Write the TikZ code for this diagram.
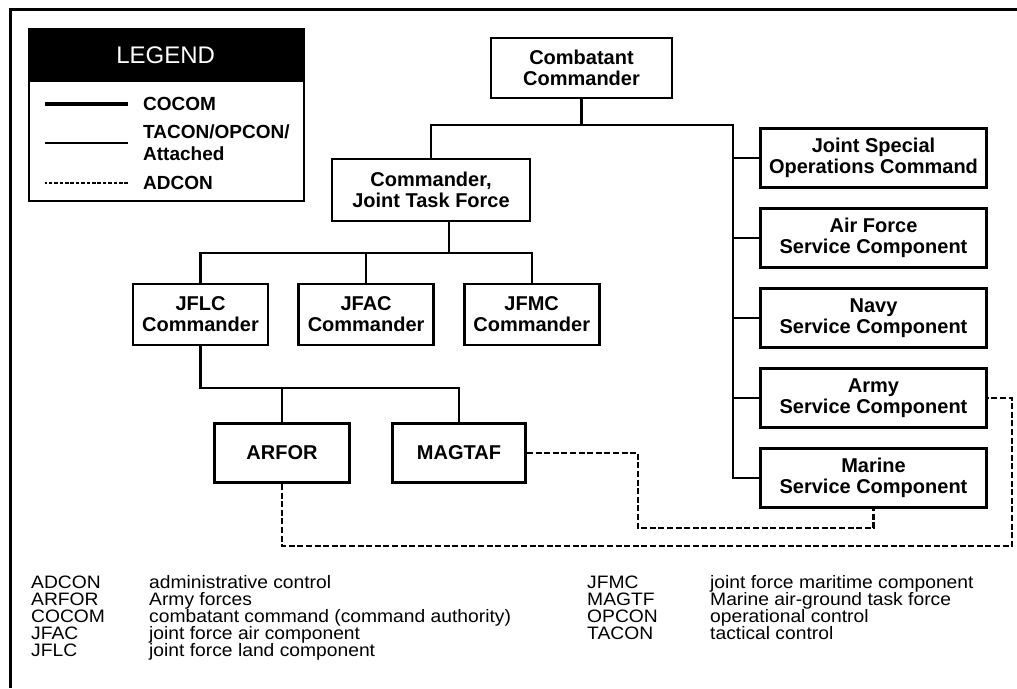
\documentclass[tikz,border=0pt]{standalone}
\usepackage{fontspec}
\setmainfont{Liberation Sans}
\newfontfamily\listfont[FakeStretch=1.07]{Liberation Sans}
\usetikzlibrary{positioning}

\begin{document}
\begin{tikzpicture}[
x=1pt, y=-1pt,
node distance=18pt and 28pt,
unit/.style={draw, line width=2.6pt, align=center, inner sep=0pt, font=\fontsize{20}{21}\selectfont\bfseries},
link/.style={line width=2.4pt},
adcon/.style={line width=2.6pt, dash pattern=on 6pt off 2.6pt},
key/.style={anchor=west, align=left, inner sep=0pt, font=\fontsize{19}{22}\selectfont\bfseries},
abbr/.style={anchor=base west, inner sep=0pt, text height=12pt, text depth=3pt, font=\listfont\fontsize{18}{17}\selectfont}
]
\useasboundingbox (0,0) rectangle (1017,688);
\draw[line width=3pt] (10.5,688) -- (10.5,9.5) -- (1017,9.5);

% legend
\node[fill=black, text=white, anchor=north west, minimum width=275, minimum height=54, inner sep=0pt, font=\fontsize{24}{24}\selectfont] (lghead) at (28,28) {LEGEND};
\node[draw, line width=2pt, anchor=north west, minimum width=275, minimum height=172] (legend) at (28,28) {};
\node[key] (kcocom) at (143,104) {COCOM};
\node[key] (ktacon) at (143,143) {TACON/OPCON/\\Attached};
\node[key] (kadcon) at (143,183) {ADCON};
\draw[line width=4pt] (kcocom.west) ++(-15,0) -- ++(-83,0);
\draw[line width=2pt] (ktacon.west) ++(-15,0) -- ++(-83,0);
\draw[line width=1.6pt, dash pattern=on 3.6pt off 1.8pt] (kadcon.west) ++(-15,0) -- ++(-83,0);

% command chain
\node[unit, minimum width=181, minimum height=60] (cc) at (581.5,68) {Combatant\\Commander};
\node[unit, minimum width=198, minimum height=62] (cjtf) at (431,190) {Commander,\\Joint Task Force};
\node[unit, minimum width=135, minimum height=61] (jflc) at (200.5,314.5) {JFLC\\Commander};
\node[unit, minimum width=135, minimum height=61, right=of jflc] (jfac) {JFAC\\Commander};
\node[unit, minimum width=135, minimum height=61, right=of jfac] (jfmc) {JFMC\\Commander};
\node[unit, minimum width=135.4, minimum height=59.4] (arfor) at (282,453) {ARFOR};
\node[unit, minimum width=133.4, minimum height=59.4, right=40pt of arfor] (magtaf) {MAGTAF};

% service components
\node[unit, minimum width=226, minimum height=59.4] (jsoc) at (873.5,158) {Joint Special\\Operations Command};
\node[unit, minimum width=226, minimum height=59.4, below=of jsoc] (af) {Air Force\\Service Component};
\node[unit, minimum width=226, minimum height=59.4, below=of af] (navy) {Navy\\Service Component};
\node[unit, minimum width=226, minimum height=59.4, below=of navy] (army) {Army\\Service Component};
\node[unit, minimum width=226, minimum height=59.4, below=of army] (marine) {Marine\\Service Component};

\coordinate (rbus) at (733,125);
\coordinate (jbus) at (449,253);
\coordinate (lbus) at (459,388);
\coordinate (mturn) at (638,528);
\coordinate (aturn) at (1012,546);

\draw[link] (cc) -- (cc |- rbus);
\draw[link] (cjtf) |- (rbus) |- (marine);
\foreach \u in {jsoc,af,navy,army}
  \draw[link] (\u) -- (\u -| rbus);
\draw[link] (jbus |- cjtf.south) -- (jbus);
\draw[link] (jflc) |- (jbus) -| (jfmc);
\draw[link] (jfac) -- (jfac |- jbus);
\draw[link] (jflc) |- (lbus) -- (magtaf);
\draw[link] (arfor) -- (arfor |- lbus);
\draw[adcon] (magtaf) -| (mturn) -| (marine);
\draw[adcon] (arfor) |- (aturn) |- (army);

% abbreviations
\foreach \ab/\df [count=\i] in {ADCON/administrative control, ARFOR/Army forces, COCOM/combatant command (command authority), JFAC/joint force air component, JFLC/joint force land component}
{
  \node[abbr] (ab\i) at (31,571+17*\i) {\ab};
  \node[abbr] (df\i) at (149,571+17*\i) {\df};
}
\foreach \ab/\df [count=\i from 6] in {JFMC/joint force maritime component, MAGTF/Marine air-ground task force, OPCON/operational control, TACON/tactical control}
{
  \node[abbr] (ab\i) at (587,486+17*\i) {\ab};
  \node[abbr] (df\i) at (710,486+17*\i) {\df};
}
\end{tikzpicture}
\end{document}
